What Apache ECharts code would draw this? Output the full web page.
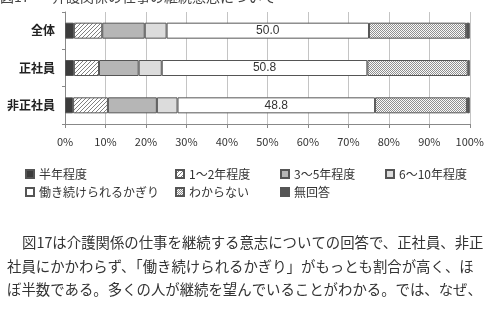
<!DOCTYPE html>
<html><head><meta charset="utf-8">
<script src="https://cdn.jsdelivr.net/npm/echarts@6/dist/echarts.min.js"></script>
<style>html,body{margin:0;padding:0;background:#fff;}#c{width:487px;height:312px;}</style>
</head><body><div id="c"></div>
<script>
const categories = ['全体', '正社員', '非正社員'];
const seriesNames = ['半年程度', '1～2年程度', '3～5年程度', '6～10年程度', '働き続けられるかぎり', 'わからない', '無回答'];
const halfYear = [2.2, 2.2, 2.0];
const oneTwoYears = [7.0, 6.2, 8.6];
const threeFiveYears = [10.5, 9.8, 12.1];
const sixTenYears = [5.4, 5.7, 5.1];
const asLongAsPossible = [50.0, 50.8, 48.8];
const dontKnow = [24.0, 24.8, 22.7];
const noAnswer = [0.9, 0.5, 0.7];
const xTickValues = [0, 10, 20, 30, 40, 50, 60, 70, 80, 90, 100];
const titleText = ['図17', '介護関係の仕事の継続意志について'];
const paragraph = [
  '図17は介護関係の仕事を継続する意志についての回答で、正社員、非正',
  '社員にかかわらず、「働き続けられるかぎり」がもっとも割合が高く、ほ',
  'ぼ半数である。多くの人が継続を望んでいることがわかる。では、なぜ、'
];

function hatch() {
  const c = document.createElement('canvas'); c.width = 4; c.height = 4;
  const x = c.getContext('2d');
  x.fillStyle = '#fff'; x.fillRect(0, 0, 4, 4);
  x.strokeStyle = '#808080'; x.lineWidth = 1;
  x.beginPath();
  x.moveTo(0, 4); x.lineTo(4, 0);
  x.moveTo(-1, 1); x.lineTo(1, -1);
  x.moveTo(3, 5); x.lineTo(5, 3);
  x.stroke();
  return { image: c, repeat: 'repeat' };
}
function checker() {
  const c = document.createElement('canvas'); c.width = 2; c.height = 2;
  const x = c.getContext('2d');
  x.fillStyle = '#fafafa'; x.fillRect(0, 0, 2, 2);
  x.fillStyle = '#909090'; x.fillRect(0, 0, 1, 1); x.fillRect(1, 1, 1, 1);
  return { image: c, repeat: 'repeat' };
}

const seriesData = [halfYear, oneTwoYears, threeFiveYears, sixTenYears, asLongAsPossible, dontKnow, noAnswer];
const colors = ['#3c3c3c', hatch(), '#b6b6b6', '#dcdcdc', '#ffffff', checker(), '#555555'];

const chart = echarts.init(document.getElementById('c'), null, { renderer: 'canvas' });

const series = seriesNames.map((name, i) => ({
  name: name,
  type: 'bar',
  stack: 'total',
  barWidth: 16,
  data: seriesData[i],
  itemStyle: { color: colors[i], borderColor: '#555', borderWidth: 1 },
  label: i === 4 ? {
    show: true, position: 'inside', color: '#333', fontSize: 12,
    fontFamily: 'Liberation Sans, Arial, sans-serif',
    formatter: p => Number(p.value).toFixed(1)
  } : { show: false },
  emphasis: { disabled: true },
  animation: false
}));

const legendPos = [[25, 168], [175, 168], [280, 168], [385, 168], [25, 186], [175, 186], [280, 186]];
const legends = seriesNames.map((n, i) => ({
  data: [n], left: legendPos[i][0], top: legendPos[i][1], padding: 0,
  icon: 'rect', itemWidth: 8, itemHeight: 8, itemGap: 3,
  textStyle: { fontSize: 12, color: '#333', fontFamily: '"Noto Sans CJK JP", sans-serif', padding: [0, 0, 0, 0] },
  selectedMode: false
}));

chart.setOption({
  animation: false,
  backgroundColor: '#fff',
  grid: { left: 65, right: 15, top: 12, bottom: 188, containLabel: false },
  legend: legends,
  xAxis: {
    type: 'value', min: 0, max: 100, interval: 10,
    axisLine: { show: true, lineStyle: { color: '#888' } },
    axisTick: { show: true, length: 4, lineStyle: { color: '#888' } },
    splitLine: { show: true, lineStyle: { color: '#c4c4c4' } },
    axisLabel: {
      margin: 12, fontSize: 11, color: '#333',
      fontFamily: '"Noto Sans CJK JP", sans-serif',
      formatter: v => xTickValues.includes(v) ? v + '%' : ''
    }
  },
  yAxis: {
    type: 'category', data: categories, inverse: true,
    axisLine: { show: true, lineStyle: { color: '#888' } },
    axisTick: { show: true, length: 3, lineStyle: { color: '#888' } },
    axisLabel: {
      margin: 10, fontSize: 12, fontWeight: 'bold', color: '#222',
      fontFamily: '"Noto Sans CJK JP", sans-serif'
    }
  },
  series: series,
  graphic: [
    { type: 'text', silent: true, style: { text: titleText[0], x: 0, y: 4, fill: '#444', fontSize: 14, fontFamily: '"Noto Sans CJK JP", sans-serif', verticalAlign: 'bottom' } },
    { type: 'text', silent: true, style: { text: titleText[1], x: 52, y: 4, fill: '#444', fontSize: 14, fontFamily: '"Noto Sans CJK JP", sans-serif', verticalAlign: 'bottom' } },
    { type: 'text', silent: true, style: { text: paragraph[0], x: 22, y: 243, fill: '#333', fontSize: 14.4, fontFamily: '"Noto Sans CJK JP", sans-serif', verticalAlign: 'middle' } },
    { type: 'text', silent: true, style: { text: paragraph[1], x: 7, y: 267, fill: '#333', fontSize: 14.4, fontFamily: '"Noto Sans CJK JP", sans-serif', verticalAlign: 'middle' } },
    { type: 'text', silent: true, style: { text: paragraph[2], x: 7, y: 290, fill: '#333', fontSize: 14.4, fontFamily: '"Noto Sans CJK JP", sans-serif', verticalAlign: 'middle' } }
  ]
});
</script>
</body></html>
